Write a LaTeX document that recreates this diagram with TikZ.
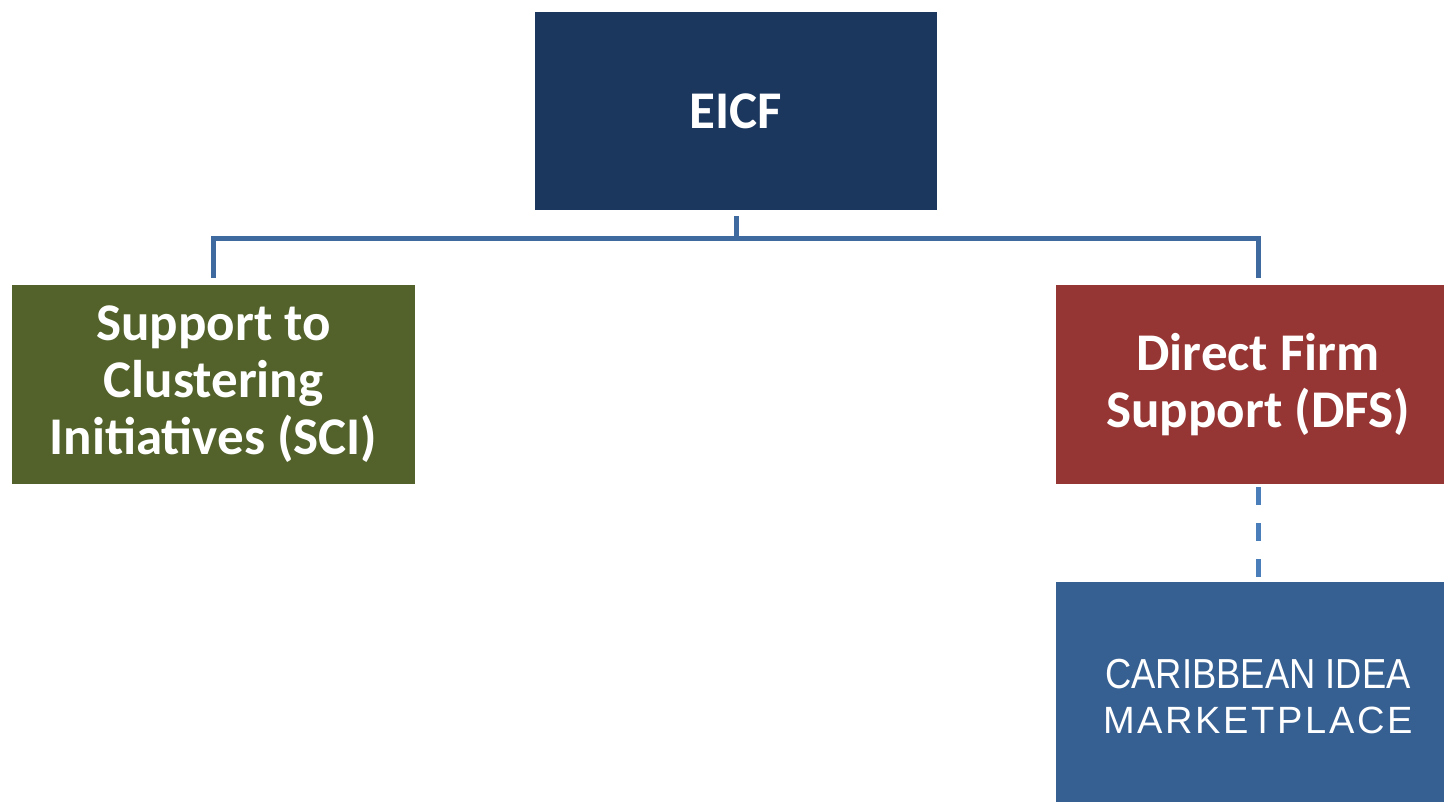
\documentclass[tikz,border=0pt]{standalone}
\usepackage{fontspec}
\setmainfont{Carlito}
\newfontfamily\arialfont{Liberation Sans}
\newfontfamily\arialspaced[LetterSpace=7]{Liberation Sans}
\definecolor{navy}{HTML}{1B375E}
\definecolor{olive}{HTML}{52622A}
\definecolor{brick}{HTML}{963634}
\definecolor{steel}{HTML}{376092}
\definecolor{connblue}{HTML}{3E6AA0}
\definecolor{dashblue}{HTML}{4A7EBB}
\tikzset{
  box/.style={rectangle, inner sep=0pt, text=white, align=center, font=\bfseries\fontsize{53}{57}\selectfont},
  conn/.style={draw=connblue, line width=5pt},
  dashline/.style={draw=dashblue, line width=5pt, dash pattern=on 18pt off 18pt}
}
\begin{document}
\begin{tikzpicture}[x=1pt,y=-1pt]
\useasboundingbox (0,0) rectangle (1444,802);
\clip (0,0) rectangle (1444,802);
\node[box, fill=navy, minimum width=402pt, minimum height=198pt] (EICF) at (736,111) {EICF};
\node[box, fill=olive, minimum width=403pt, minimum height=199pt] (SCI) at (213.5,384.5) {Support to\\Clustering\\Initiatives (SCI)};
\node[box, fill=brick, minimum width=404pt, minimum height=199pt] (DFS) at (1258,384.5) {Direct Firm\\Support (DFS)};
\node[box, fill=steel, minimum width=404pt, minimum height=230pt, font=\arialfont\fontsize{38}{45}\selectfont] (CIM) at (1258,697)
  {\scalebox{0.866}[1]{\fontsize{42}{45}\selectfont CARIBBEAN IDEA}\\
   \arialspaced\fontsize{38}{45}\selectfont MARKETPLACE};
\draw[conn, shorten <=6pt] (EICF.south) -- ++(0,28) coordinate (j);
\draw[conn, shorten <=7pt, shorten >=7pt] (SCI.north) |- (j) -| (DFS.north);
\draw[dashline, shorten <=3pt, shorten >=5pt] (DFS.south) -- (CIM.north);
\end{tikzpicture}
\end{document}
